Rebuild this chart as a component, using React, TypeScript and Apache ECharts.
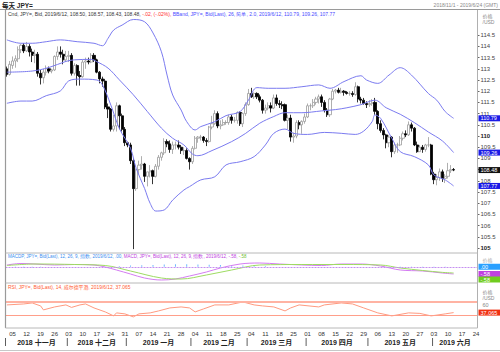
import React, { useEffect, useRef } from "react";
import * as echarts from "echarts";

const FONT = "'Liberation Sans', 'Noto Sans CJK SC', sans-serif";

// ---- categories: weekdays 2018-11-01 .. 2019-06-24
const categories: string[] = [];
for (let d = new Date(Date.UTC(2018, 10, 1)); d <= new Date(Date.UTC(2019, 5, 24)); d.setUTCDate(d.getUTCDate() + 1)) {
  const wd = d.getUTCDay();
  if (wd !== 0 && wd !== 6) categories.push(d.toISOString().slice(0, 10));
}

// ---- daily candles [open, high, low, close]
const candles: number[][] = [
  [113.0, 113.1, 112.65, 112.75], [112.75, 113.35, 112.7, 113.2], [113.15, 113.55, 113.0, 113.35], [113.35, 113.6, 113.05, 113.45],
  [113.45, 114.0, 113.3, 113.85], [113.85, 114.1, 113.7, 114.05], [114.05, 114.15, 113.7, 113.8], [113.8, 114.2, 113.75, 114.0],
  [114.0, 114.1, 113.55, 113.75], [113.75, 113.9, 113.3, 113.6], [113.6, 113.85, 113.25, 113.65], [113.65, 113.75, 112.65, 112.8],
  [112.8, 112.95, 112.3, 112.6], [112.6, 113.0, 112.35, 112.85], [112.85, 113.15, 112.7, 113.0], [113.0, 113.1, 112.8, 112.9],
  [112.9, 113.0, 112.8, 112.95], [112.95, 113.6, 112.9, 113.55], [113.55, 114.0, 113.4, 113.75], [113.75, 114.0, 113.5, 113.65],
  [113.65, 113.85, 113.2, 113.4], [113.4, 113.8, 113.3, 113.55],
  [113.55, 113.8, 113.3, 113.6], [113.6, 113.7, 112.7, 112.8], [112.8, 113.25, 112.7, 113.15], [113.15, 113.2, 112.25, 112.7],
  [112.7, 112.9, 112.25, 112.65], [112.65, 113.4, 112.6, 113.3], [113.3, 113.5, 113.0, 113.35], [113.35, 113.5, 113.2, 113.3],
  [113.3, 113.7, 113.25, 113.6], [113.6, 113.7, 113.3, 113.4], [113.4, 113.45, 112.8, 112.85], [112.85, 112.9, 112.35, 112.55],
  [112.55, 112.65, 112.2, 112.45], [112.45, 112.55, 111.2, 111.3], [111.3, 111.45, 110.8, 111.2], [111.2, 111.25, 110.2, 110.3],
  [110.3, 110.95, 110.2, 110.45], [110.45, 111.5, 110.2, 111.35], [111.35, 111.4, 110.3, 110.9], [110.9, 111.0, 110.2, 110.3],
  [110.3, 110.4, 109.55, 109.7],
  [109.7, 109.75, 109.5, 109.6], [109.6, 109.7, 108.75, 108.9], [108.9, 109.0, 104.95, 107.65], [107.65, 108.55, 107.55, 108.5],
  [108.5, 108.9, 108.3, 108.7], [108.7, 109.1, 108.5, 108.75], [108.75, 108.8, 107.95, 108.2], [108.2, 108.4, 107.75, 108.4],
  [108.4, 108.7, 108.15, 108.45], [108.45, 108.5, 107.85, 108.2], [108.2, 108.75, 108.15, 108.65], [108.65, 109.15, 108.5, 109.05],
  [109.05, 109.3, 108.9, 109.25], [109.25, 109.9, 109.15, 109.75], [109.75, 109.85, 109.5, 109.65], [109.65, 109.8, 109.25, 109.4],
  [109.4, 109.75, 109.2, 109.6], [109.6, 109.75, 109.4, 109.6], [109.6, 109.8, 109.4, 109.5], [109.5, 109.6, 109.2, 109.35],
  [109.35, 109.5, 109.15, 109.35], [109.35, 109.45, 108.95, 109.0], [109.0, 109.05, 108.5, 108.85],
  [108.85, 109.55, 108.75, 109.45], [109.45, 110.0, 109.4, 109.9], [109.9, 110.0, 109.7, 109.95], [109.95, 110.05, 109.8, 109.95],
  [109.95, 110.0, 109.7, 109.8], [109.8, 109.9, 109.55, 109.75], [109.75, 110.45, 109.7, 110.4], [110.4, 110.9, 110.3, 110.55],
  [110.55, 111.15, 110.5, 111.0], [111.0, 111.1, 110.35, 110.45], [110.45, 110.7, 110.3, 110.5], [110.5, 110.75, 110.45, 110.6],
  [110.6, 110.7, 110.5, 110.6], [110.6, 110.95, 110.5, 110.85], [110.85, 110.95, 110.55, 110.7], [110.7, 110.85, 110.6, 110.7],
  [110.7, 111.1, 110.55, 111.05], [111.05, 111.1, 110.45, 110.55], [110.55, 111.05, 110.4, 111.0], [111.0, 111.5, 110.9, 111.4],
  [111.4, 112.1, 111.35, 111.9], [111.9, 112.15, 111.7, 111.75], [111.75, 111.95, 111.65, 111.9], [111.9, 111.95, 111.65, 111.75],
  [111.75, 111.85, 111.5, 111.6], [111.6, 111.65, 111.0, 111.15], [111.15, 111.4, 111.0, 111.25], [111.25, 111.5, 111.15, 111.35],
  [111.35, 111.5, 111.05, 111.25], [111.25, 111.85, 111.2, 111.7], [111.7, 111.85, 111.35, 111.45], [111.45, 111.6, 111.25, 111.4],
  [111.4, 111.55, 111.2, 111.35], [111.4, 111.45, 110.65, 110.7], [110.7, 110.95, 110.3, 110.8], [110.8, 110.95, 109.75, 109.95],
  [109.95, 110.15, 109.7, 110.0], [110.0, 110.7, 109.9, 110.6], [110.6, 110.7, 110.3, 110.5], [110.5, 110.7, 110.1, 110.65],
  [110.65, 111.0, 110.55, 110.85],
  [110.85, 111.45, 110.8, 111.35], [111.35, 111.45, 111.15, 111.35], [111.35, 111.65, 111.25, 111.5], [111.5, 111.75, 111.4, 111.65],
  [111.65, 111.85, 111.45, 111.75], [111.75, 111.85, 111.3, 111.5], [111.5, 111.6, 111.05, 111.15], [111.15, 111.25, 110.85, 110.95],
  [110.95, 111.7, 110.85, 111.65], [111.65, 112.1, 111.6, 112.0], [112.0, 112.1, 111.9, 112.05], [112.05, 112.15, 111.9, 111.95],
  [111.95, 112.15, 111.9, 112.0], [112.0, 112.05, 111.8, 111.95], [111.95, 112.0, 111.85, 111.9], [111.9, 112.0, 111.8, 111.9],
  [111.9, 112.0, 111.75, 111.85], [111.85, 112.4, 111.8, 112.2], [112.2, 112.25, 111.5, 111.65], [111.65, 111.75, 111.45, 111.6],
  [111.6, 111.7, 111.4, 111.45], [111.45, 111.55, 111.25, 111.4],
  [111.4, 111.6, 111.3, 111.45], [111.45, 111.65, 111.35, 111.5], [111.5, 111.7, 110.95, 111.1], [111.1, 111.15, 110.3, 110.55],
  [110.55, 110.7, 110.15, 110.25], [110.25, 110.35, 109.85, 110.05], [110.05, 110.1, 109.45, 109.7], [109.7, 110.05, 109.5, 109.95],
  [109.95, 110.0, 109.05, 109.3], [109.3, 109.7, 109.2, 109.6], [109.6, 109.7, 109.25, 109.6], [109.6, 110.0, 109.55, 109.9],
  [109.9, 110.2, 109.8, 110.1], [110.1, 110.25, 109.95, 110.05], [110.05, 110.65, 110.0, 110.5], [110.5, 110.6, 110.2, 110.35],
  [110.35, 110.4, 109.55, 109.6], [109.6, 109.75, 109.25, 109.3], [109.3, 109.6, 109.3, 109.5], [109.5, 109.6, 109.25, 109.4],
  [109.4, 109.65, 109.3, 109.6], [109.6, 109.95, 109.5, 109.6], [109.6, 109.65, 108.25, 108.3],
  [108.3, 108.4, 107.85, 108.05], [108.05, 108.3, 107.8, 108.15], [108.15, 108.55, 108.0, 108.4], [108.4, 108.5, 107.95, 108.1],
  [108.1, 108.3, 107.9, 108.2], [108.2, 108.8, 108.1, 108.45], [108.45, 108.7, 108.35, 108.5], [108.5, 108.57, 108.43, 108.48],
];

// ---- Bollinger band readings [dayIndex, price]
const bbUpper: number[][] = [
  [0, 114.29], [5, 114.14], [9, 114.14], [14, 114.21], [19, 114.29], [25, 114.21], [31, 114.14], [34, 114.03],
  [36, 114.36], [38, 114.73], [41, 114.95], [45, 115.2], [49, 115.1], [52, 114.6], [55, 113.76], [57, 112.72],
  [59, 111.83], [62, 111.16], [64, 110.64], [67, 110.27], [69, 110.42], [74, 110.64], [78, 110.91], [83, 111.09],
  [86, 111.61], [89, 112.16], [93, 112.13], [99, 112.13], [105, 112.2], [111, 112.28], [115, 112.13], [120, 112.43],
  [126, 112.69], [128, 112.5], [132, 112.35], [136, 112.72], [140, 113.05], [144, 112.72], [150, 111.9], [153, 111.6],
  [156, 111.09], [159, 110.79],
];
const bbMiddle: number[][] = [
  [0, 112.85], [9, 112.9], [15, 113.06], [21, 113.33], [24, 113.4], [30, 113.42], [32, 113.32], [36, 113.03],
  [40, 112.51], [45, 111.84], [50, 111.09], [55, 110.35], [59, 109.9], [63, 109.6], [66, 109.2], [68, 109.12],
  [73, 109.35], [80, 109.75], [85, 110.12], [90, 110.57], [95, 110.87], [99, 111.04], [105, 111.04], [112, 111.12],
  [117, 111.18], [121, 111.26], [126, 111.4], [131, 111.6], [135, 111.26], [140, 110.97], [145, 110.6], [150, 110.18],
  [155, 109.78], [159, 109.26],
];
const bbLower: number[][] = [
  [0, 111.46], [5, 111.56], [9, 111.56], [14, 111.8], [19, 112.01], [22, 112.46], [26, 112.54], [32, 112.5],
  [34, 112.28], [37, 111.38], [40, 110.34], [44, 109.45], [46, 108.56], [49, 107.66], [51, 106.99], [53, 106.65],
  [56, 106.7], [59, 107.14], [63, 107.59], [65, 107.74], [69, 108.04], [74, 108.18], [78, 108.71], [83, 108.85],
  [88, 109.08], [92, 109.6], [95, 110.12], [99, 110.31], [102, 110.12], [107, 110.07], [113, 110.16], [119, 110.12],
  [124, 110.07], [127, 110.22], [130, 110.64], [131, 110.94], [133, 110.79], [137, 109.9], [140, 109.3], [145, 109.08],
  [150, 108.71], [152, 108.26], [156, 108.04], [159, 107.77],
];

// ---- MACD readings [dayIndex, value]
const macdLine: number[][] = [
  [0, 0.14], [5, 0.26], [10, 0.22], [17, 0.14], [24, 0.18], [31, 0.14], [35, -0.02], [39, -0.26], [44, -0.58],
  [49, -0.9], [55, -1.06], [60, -0.98], [65, -0.74], [71, -0.42], [76, -0.1], [83, 0.22], [90, 0.3], [97, 0.22],
  [105, 0.14], [112, 0.1], [119, 0.22], [126, 0.22], [133, 0.06], [140, -0.26], [148, -0.34], [155, -0.5], [159, -0.58],
];
const macdSignal: number[][] = [
  [0, 0.1], [10, 0.22], [24, 0.18], [35, 0.1], [44, -0.34], [55, -0.9], [62, -0.98], [71, -0.66], [80, -0.26],
  [90, 0.14], [105, 0.18], [120, 0.18], [133, 0.14], [140, -0.1], [148, -0.3], [155, -0.45], [159, -0.5],
];
const macdHist: number[][] = [
  [3, -0.05], [6, -0.08], [9, -0.06], [12, -0.04], [40, 0.06], [44, 0.1], [48, 0.12], [52, 0.15], [56, 0.18], [60, 0.2],
  [64, 0.2], [68, 0.18], [72, 0.16], [76, 0.14], [80, 0.12], [84, 0.1], [88, 0.08], [92, 0.06], [136, -0.05], [140, -0.08],
  [144, -0.07], [148, -0.05], [152, -0.06], [156, -0.04],
];

// ---- RSI readings [dayIndex, value]
const rsiLine: number[][] = [
  [0, 60.8], [6, 63.8], [9, 66.9], [12, 57.7], [13, 45.4], [17, 54.6], [21, 60.8], [23, 53.1], [26, 60.8], [28, 63.8],
  [31, 51.5], [35, 39.2], [38, 26.9], [39, 36.2], [42, 33.1], [45, 23.8], [47, 33.1], [51, 36.2], [54, 42.3], [58, 51.5],
  [62, 54.6], [65, 51.5], [67, 39.2], [70, 48.5], [74, 60.8], [79, 60.8], [84, 70], [88, 60.8], [91, 57.7], [95, 54.6],
  [99, 42.3], [101, 51.5], [104, 60.8], [111, 54.6], [113, 60.8], [119, 66.9], [123, 63.8], [127, 51.5], [132, 36.2],
  [137, 26.9], [143, 36.2], [147, 34.6], [151, 26.9], [156, 33.1], [159, 37.07],
];

const priceTicks = [105, 105.5, 106, 106.5, 107, 107.5, 108, 108.5, 109, 109.5, 110, 110.5, 111, 111.5, 112, 112.5, 113, 113.5, 114, 114.5];
const priceLabels = [105, 105.5, 106, 106.5, 107, 107.5, 108, 109, 109.5, 110, 110.5, 111, 111.5, 112, 112.5, 113, 113.5, 114, 114.5];
const monthNames = ["2018 十一月", "2018 十二月", "2019 一月", "2019 二月", "2019 三月", "2019 四月", "2019 五月", "2019 六月"];
const lastClose = 108.48;
const bandLast = { upper: 110.79, middle: 109.26, lower: 107.77 };
const macdLast = { hist: 0.0, macd: -0.58, signal: -0.58 };
const rsiLast = 37.065;
const rsiLevels = [70, 30];

const GRID_L = 5.5, GRID_W = 472;

export default function App() {
  const ref = useRef<HTMLDivElement>(null);
  useEffect(() => {
    const chart = echarts.init(ref.current!, null, { renderer: "svg" });
    const hiddenX = (gi: number) => ({
      type: "category", data: categories, gridIndex: gi, boundaryGap: true,
      axisLine: { show: false }, axisTick: { show: false }, axisLabel: { show: false }, splitLine: { show: false },
    });
    const option: any = {
      animation: false,
      backgroundColor: "#fff",
      textStyle: { fontFamily: FONT },
      grid: [
        { left: GRID_L, width: GRID_W, top: 10, height: 243 },
        { left: GRID_L, width: GRID_W, top: 253, height: 30 },
        { left: GRID_L, width: GRID_W, top: 283, height: 45 },
      ],
      xAxis: [
        hiddenX(0), hiddenX(1),
        {
          ...hiddenX(2),
          axisLabel: {
            show: true, fontSize: 6, color: "#333", margin: 3, fontFamily: FONT,
            interval: (i: number, v: string) => new Date(v + "T00:00:00Z").getUTCDay() === 1,
            formatter: (v: string) => v.slice(8, 10),
          },
        },
      ],
      yAxis: [
        {
          gridIndex: 0, position: "right", min: 104.777, max: 115.625, scale: true,
          axisLine: { show: false }, splitLine: { show: false },
          axisTick: { show: true, length: 2, customValues: priceTicks, lineStyle: { color: "#666" } },
          axisLabel: {
            customValues: priceLabels, fontSize: 6, color: "#444", margin: 3, fontFamily: FONT,
            formatter: (v: number) => (v === 110 || v === 105 ? `{b|${v}}` : `${v}`),
            rich: { b: { fontWeight: "bold", fontSize: 6, color: "#222" } },
          },
        },
        {
          gridIndex: 1, position: "right", min: -1.3, max: 1.1,
          axisLine: { show: false }, splitLine: { show: false }, axisTick: { show: false }, axisLabel: { show: false },
        },
        {
          gridIndex: 2, position: "right", min: -10.46, max: 128.46,
          axisLine: { show: false }, splitLine: { show: false }, axisTick: { show: false }, axisLabel: { show: false },
        },
      ],
      series: [
        {
          type: "candlestick", xAxisIndex: 0, yAxisIndex: 0, barWidth: 2.6,
          data: candles.map(([o, h, l, c]) => [o, c, l, h]),
          itemStyle: { color: "#ffffff", color0: "#000000", borderColor: "#9a9a9a", borderColor0: "#000000", borderWidth: 0.8 },
        },
        ...[bbUpper, bbMiddle, bbLower].map((d) => ({
          type: "line", xAxisIndex: 0, yAxisIndex: 0, data: d, smooth: 0.35, symbol: "none",
          lineStyle: { color: "#7b7bf0", width: 1 },
        })),
        {
          type: "bar", xAxisIndex: 1, yAxisIndex: 1, data: macdHist, barWidth: 0.7,
          itemStyle: { color: "#6fb7ff" },
          markLine: {
            silent: true, symbol: "none", label: { show: false },
            lineStyle: { color: "#c58ff0", type: [2, 1], width: 1 }, data: [{ yAxis: 0 }],
          },
        },
        {
          type: "line", xAxisIndex: 1, yAxisIndex: 1, data: macdLine, smooth: 0.35, symbol: "none",
          lineStyle: { color: "#d47cf2", width: 1 },
        },
        {
          type: "line", xAxisIndex: 1, yAxisIndex: 1, data: macdSignal, smooth: 0.35, symbol: "none",
          lineStyle: { color: "#9edc62", width: 1 },
        },
        {
          type: "line", xAxisIndex: 2, yAxisIndex: 2, data: rsiLine, symbol: "none",
          lineStyle: { color: "#ff9a80", width: 1 },
          markLine: {
            silent: true, symbol: "none", label: { show: false },
            data: [
              { yAxis: rsiLevels[0], lineStyle: { color: "#ffb3a3", width: 2, type: "solid" } },
              { yAxis: rsiLevels[1], lineStyle: { color: "#ff9f8a", width: 1, type: "solid" } },
            ],
          },
        },
      ],
    };
    chart.setOption(option);

    // ---- overlays computed through the chart's own scales
    const xOf = (i: number) => chart.convertToPixel({ xAxisIndex: 2 }, i) as number;
    const band = xOf(1) - xOf(0);
    const yP = (v: number) => chart.convertToPixel({ yAxisIndex: 0 }, v) as number;
    const yM = (v: number) => chart.convertToPixel({ yAxisIndex: 1 }, v) as number;
    const yR = (v: number) => chart.convertToPixel({ yAxisIndex: 2 }, v) as number;
    const RIGHT = GRID_L + GRID_W;

    const g: any[] = [];
    const line = (x1: number, y1: number, x2: number, y2: number, stroke: string, w = 1) =>
      g.push({ type: "line", shape: { x1, y1, x2, y2 }, style: { stroke, lineWidth: w }, silent: true, z: 50 });
    const txt = (x: number, y: number, text: string, fill: string, size = 6, align = "left", weight = "normal") =>
      g.push({ type: "text", x, y, silent: true, z: 60, style: { text, fill, fontSize: size, fontFamily: FONT, fontWeight: weight, align, verticalAlign: "middle" } });
    const tag = (y: number, text: string, bg: string, fg = "#fff") => {
      g.push({ type: "rect", shape: { x: RIGHT + 1, y: y - 3, width: 22, height: 6 }, style: { fill: bg }, silent: true, z: 55 });
      txt(RIGHT + 3, y, text, fg, 5.5);
    };

    // frame
    line(0, 9.5, 500, 9.5, "#9a9a9a", 1);
    line(GRID_L, 10, GRID_L, 328, "#9a9a9a", 1.2);
    line(RIGHT, 10, RIGHT, 328, "#b0b0b0", 1);
    line(GRID_L, 253, RIGHT, 253, "#b8b8b8", 1);
    line(GRID_L, 283, RIGHT, 283, "#b8b8b8", 1);
    line(GRID_L, 328, RIGHT, 328, "#b8b8b8", 1);
    line(0, 350.5, 500, 350.5, "#c8c8c8", 1);

    // header texts
    txt(2, 5, "每天 JPY=", "#222", 6.5, "left", "bold");
    txt(498, 5, "2018/11/1 - 2019/6/24 (GMT)", "#888", 5, "right");
    g.push({
      type: "text", x: 8, y: 13.5, silent: true, z: 60,
      style: {
        text: "{a|Cnd, JPY=, Bid, 2019/6/12, 108.50, 108.57, 108.43, 108.48, }{r|-.02, (-.02%), }{b|BBand, JPY=, Bid(Last), 26, 简单, 2.0, 2019/6/12, 110.79, 109.26, 107.77}",
        fontFamily: FONT, fontSize: 5, verticalAlign: "middle",
        rich: { a: { fill: "#333", fontSize: 5 }, r: { fill: "#ff3030", fontSize: 5 }, b: { fill: "#4a4aff", fontSize: 5 } },
      },
    });
    g.push({
      type: "text", x: 8, y: 256.5, silent: true, z: 60,
      style: {
        text: "{a|MACDP, JPY=, Bid(Last), 12, 26, 9, 指数, 2019/6/12, .00, }{b|MACD, JPY=, Bid(Last), 12, 26, 9, 指数, 2019/6/12, -.58, }{c|-.58}",
        fontFamily: FONT, fontSize: 4.5, verticalAlign: "middle",
        rich: { a: { fill: "#3a8ef0", fontSize: 4.5 }, b: { fill: "#c040e0", fontSize: 4.5 }, c: { fill: "#70c030", fontSize: 4.5 } },
      },
    });
    txt(8, 287, "RSI, JPY=, Bid(Last), 14, 威尔德平滑, 2019/6/12, 37.065", "#ff5a30", 4.9);

    // right axis headers
    txt(RIGHT + 5, 16, "价格", "#888", 5);
    txt(RIGHT + 5, 22, "/USD", "#888", 5);
    txt(RIGHT + 5, 260, "价格", "#aaa", 5);
    txt(RIGHT + 5, 292, "价格", "#888", 5);
    txt(RIGHT + 5, 297.5, "/USD", "#888", 5);
    txt(RIGHT + 5, yR(60), "60", "#888", 5.5);

    // last-value tags
    tag(yP(bandLast.upper), bandLast.upper.toFixed(2), "#1a1ae6");
    tag(yP(bandLast.middle), bandLast.middle.toFixed(2), "#1a1ae6");
    tag(yP(lastClose), lastClose.toFixed(2), "#111");
    tag(yP(bandLast.lower), bandLast.lower.toFixed(2), "#1a1ae6");
    tag(yM(macdLast.hist), ".00", "#2aa0ff");
    tag(yM(macdLast.macd), "-.58", "#c040e0");
    tag(yM(macdLast.signal) + 5.5, "-.58", "#70cc20");
    tag(yR(rsiLast), rsiLast.toFixed(3), "#f03010");

    // month labels and separators
    monthNames.forEach((name, m) => {
      const ym = (m < 2 ? "2018-" + String(11 + m) : "2019-0" + String(m - 1));
      const idx = categories.map((c, i) => (c.startsWith(ym) ? i : -1)).filter((i) => i >= 0);
      const x0 = xOf(idx[0]) - band / 2;
      const x1 = xOf(idx[idx.length - 1]) + band / 2;
      line(x0, 338, x0, 346, "#333", 0.8);
      txt((x0 + x1) / 2, 342, name, "#222", 7, "center", "bold");
    });

    chart.setOption({ graphic: g });
    return () => chart.dispose();
  }, []);
  return <div ref={ref} style={{ position: "fixed", left: 0, top: 0, width: 500, height: 352 }} />;
}
